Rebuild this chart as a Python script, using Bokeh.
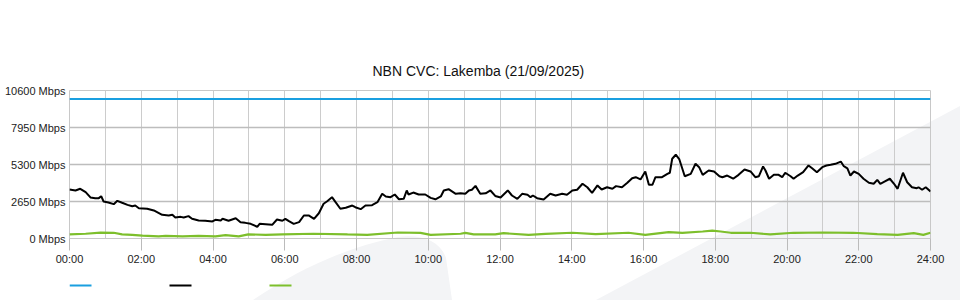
from urllib.parse import quote

from bokeh.plotting import figure
from bokeh.layouts import column
from bokeh.models import FixedTicker, Range1d, PrintfTickFormatter
from bokeh.embed import file_html
from bokeh.resources import INLINE

TITLE = "NBN CVC: Lakemba (21/09/2025)"

y_ticks = [0, 2650, 5300, 7950, 10600]
x_ticks = [0, 120, 240, 360, 480, 600, 720, 840, 960, 1080, 1200, 1320, 1440]
x_tick_labels = ["00:00", "02:00", "04:00", "06:00", "08:00", "10:00", "12:00",
                 "14:00", "16:00", "18:00", "20:00", "22:00", "24:00"]
hour_grid = list(range(0, 1441, 60))

# capacity (blue)
capacity_minutes = [0, 1440]
capacity_mbps = [10000, 10000]

# traffic (black), minutes after midnight / Mbps
traffic_minutes = [
    0, 10, 18, 27, 35, 43, 49, 53, 57, 65,
    74, 80, 88, 97, 105, 110, 116, 130, 141, 155,
    166, 172, 177, 186, 191, 199, 205, 216, 227, 239,
    244, 253, 256, 266, 278, 286, 294, 303, 314, 318,
    328, 339, 347, 356, 361, 367, 375, 384, 392, 400,
    409, 417, 425, 431, 439, 445, 453, 462, 473, 478,
    487, 495, 506, 515, 523, 529, 537, 544, 551, 559,
    564, 567, 575, 584, 595, 604, 612, 621, 626, 634,
    646, 654, 662, 668, 673, 679, 687, 696, 704, 712,
    721, 733, 740, 749, 757, 766, 771, 775, 782, 793,
    804, 813, 824, 832, 841, 849, 858, 866, 874, 883,
    890, 899, 908, 914, 924, 933, 941, 947, 955, 963,
    969, 975, 980, 991, 1000, 1004, 1008, 1014, 1020, 1029,
    1039, 1047, 1053, 1059, 1069, 1078, 1087, 1092, 1100, 1110,
    1119, 1129, 1139, 1147, 1153, 1160, 1164, 1170, 1178, 1186,
    1192, 1197, 1206, 1211, 1218, 1227, 1236, 1242, 1250, 1259,
    1266, 1273, 1281, 1290, 1295, 1301, 1306, 1312, 1320, 1328,
    1337, 1345, 1351, 1356, 1363, 1372, 1379, 1385, 1394, 1401,
    1409, 1417, 1420, 1426, 1432, 1440,
]
traffic_mbps = [
    3510, 3440, 3560, 3320, 2940, 2890, 2890, 3030, 2650, 2580,
    2460, 2700, 2560, 2410, 2310, 2360, 2170, 2130, 2010, 1700,
    1650, 1700, 1500, 1550, 1500, 1600, 1410, 1290, 1270, 1220,
    1340, 1290, 1410, 1270, 1450, 1170, 1120, 1050, 840, 1050,
    1020, 980, 1360, 1270, 1410, 1240, 1050, 1170, 1650, 1650,
    1410, 1810, 2490, 2670, 2960, 2600, 2130, 2200, 2360, 2240,
    2100, 2360, 2390, 2600, 3200, 3010, 2960, 3150, 2810, 2840,
    3440, 3150, 3290, 3150, 3150, 2910, 2810, 3010, 3440, 3530,
    3200, 3240, 3200, 3440, 3490, 3770, 3200, 3240, 3440, 3050,
    2940, 3440, 3080, 2840, 3200, 3130, 2960, 3080, 2890, 2790,
    3200, 3080, 3200, 3130, 3440, 3490, 3920, 3670, 3270, 3800,
    3510, 3670, 3560, 3750, 3670, 3990, 4320, 4390, 4230, 4800,
    3850, 3850, 4390, 4390, 4630, 4710, 5710, 6000, 5660, 4460,
    4630, 5350, 5110, 4560, 4870, 4800, 4460, 4390, 4510, 4280,
    4560, 4940, 4800, 4390, 4460, 5160, 4870, 4280, 4560, 4560,
    4390, 4710, 4460, 4280, 4510, 4750, 5230, 5030, 4750, 5110,
    5230, 5280, 5350, 5510, 5180, 5030, 4510, 4800, 4630, 4280,
    3990, 3920, 4200, 3920, 4080, 4280, 3920, 3560, 4710, 4030,
    3670, 3600, 3670, 3490, 3670, 3370,
]

# upstream (green)
upstream_minutes = [
    0, 27, 52, 74, 88, 105, 122, 149, 161, 189,
    216, 244, 261, 283, 299, 328, 356, 408, 465, 498,
    549, 587, 604, 654, 662, 676, 712, 726, 768, 796,
    841, 880, 935, 963, 1002, 1025, 1059, 1075, 1089, 1106,
    1139, 1172, 1211, 1261, 1311, 1351, 1385, 1412, 1428, 1440,
]
upstream_mbps = [
    300, 340, 420, 410, 300, 260, 200, 150, 190, 150,
    190, 150, 240, 150, 300, 260, 300, 340, 290, 265,
    430, 400, 265, 340, 400, 290, 290, 380, 260, 330,
    410, 310, 410, 260, 450, 400, 500, 570, 500, 410,
    410, 290, 410, 430, 410, 310, 260, 380, 260, 410,
]

BLUE = "#1a9fe0"
BLACK = "#000000"
GREEN = "#7dbf2c"
series_colors = [BLUE, BLACK, GREEN]
FONT = "Liberation Sans"

p = figure(width=960, height=270, output_backend="svg", toolbar_location=None,
           x_range=Range1d(0, 1440), y_range=Range1d(0, 10600),
           min_border_left=69, min_border_right=30, min_border_top=90,
           min_border_bottom=32)
p.background_fill_color = None
p.border_fill_color = None
p.outline_line_color = "#c8c8c8"

p.title.text = TITLE
p.title.text_font = FONT
p.title.text_font_size = "14px"
p.title.text_font_style = "normal"
p.title.text_color = "#111111"
p.title.align = "left"
p.title.offset = 303
p.title.standoff = 24

p.line(capacity_minutes, capacity_mbps, line_color=BLUE, line_width=2)
p.line(traffic_minutes, traffic_mbps, line_color=BLACK, line_width=2)
p.line(upstream_minutes, upstream_mbps, line_color=GREEN, line_width=2.2)

# axes
xa = p.xaxis[0]
xa.ticker = FixedTicker(ticks=x_ticks)
xa.major_label_overrides = {t: l for t, l in zip(x_ticks, x_tick_labels)}
xa.major_tick_in = 0
xa.major_tick_out = 12
xa.major_tick_line_color = "#bbbbbb"
xa.minor_tick_line_color = None
xa.minor_tick_in = 0
xa.minor_tick_out = 0
xa.axis_line_color = "#c8c8c8"
xa.major_label_standoff = 2
xa.major_label_text_font = FONT
xa.major_label_text_font_size = "11px"
xa.major_label_text_color = "#222222"

ya = p.yaxis[0]
ya.ticker = FixedTicker(ticks=y_ticks)
ya.formatter = PrintfTickFormatter(format="%d Mbps")
ya.major_tick_line_color = None
ya.minor_tick_line_color = None
ya.major_tick_in = 0
ya.major_tick_out = 0
ya.minor_tick_in = 0
ya.minor_tick_out = 0
ya.axis_line_color = None
ya.major_label_standoff = 4
ya.major_label_text_font = FONT
ya.major_label_text_font_size = "11px"
ya.major_label_text_color = "#222222"

p.xgrid.ticker = FixedTicker(ticks=hour_grid)
p.xgrid.grid_line_color = "#cccccc"
p.xgrid.grid_line_width = 1
p.ygrid.grid_line_color = "#bdbdbd"
p.ygrid.grid_line_width = 1.5

# legend strip below the chart: unlabeled colour keys, one per series.
# Its frame is aligned with the chart frame (69..930 px), so the range is
# expressed in page pixels: key width 22 px, pitch 100 px.
lg = figure(width=960, height=30, output_backend="svg", toolbar_location=None,
            title=None, x_axis_location=None, y_axis_location=None,
            x_range=Range1d(69, 930), y_range=Range1d(30, 0),
            min_border=0, min_border_left=0, min_border_right=0,
            min_border_top=0, min_border_bottom=0)
lg.grid.visible = False
lg.outline_line_color = None
lg.background_fill_color = None
lg.border_fill_color = None
key_x0 = [69 + 100 * i for i in range(len(series_colors))]
key_x1 = [x + 22 for x in key_x0]
key_y = [15] * len(series_colors)
lg.segment(x0=key_x0, y0=key_y, x1=key_x1, y1=key_y, line_color=series_colors,
           line_width=2)

layout = column(p, lg)

# watermark shapes behind the chart (CSS background of the layout element)
wm = ('<svg xmlns="http://www.w3.org/2000/svg" width="960" height="300">'
      '<path d="M596,300 L960,106 L960,300 Z" fill="#f3f4f6"/>'
      '<path d="M253,300 C300,268 350,246 398,237 C420,234 440,240 446,258 L452,300 Z" fill="#f3f4f6"/>'
      '</svg>')
layout.styles = {"background-image": 'url("data:image/svg+xml,' + quote(wm) + '")',
                 "background-repeat": "no-repeat"}

open("out.html", "w").write(file_html(layout, INLINE))
